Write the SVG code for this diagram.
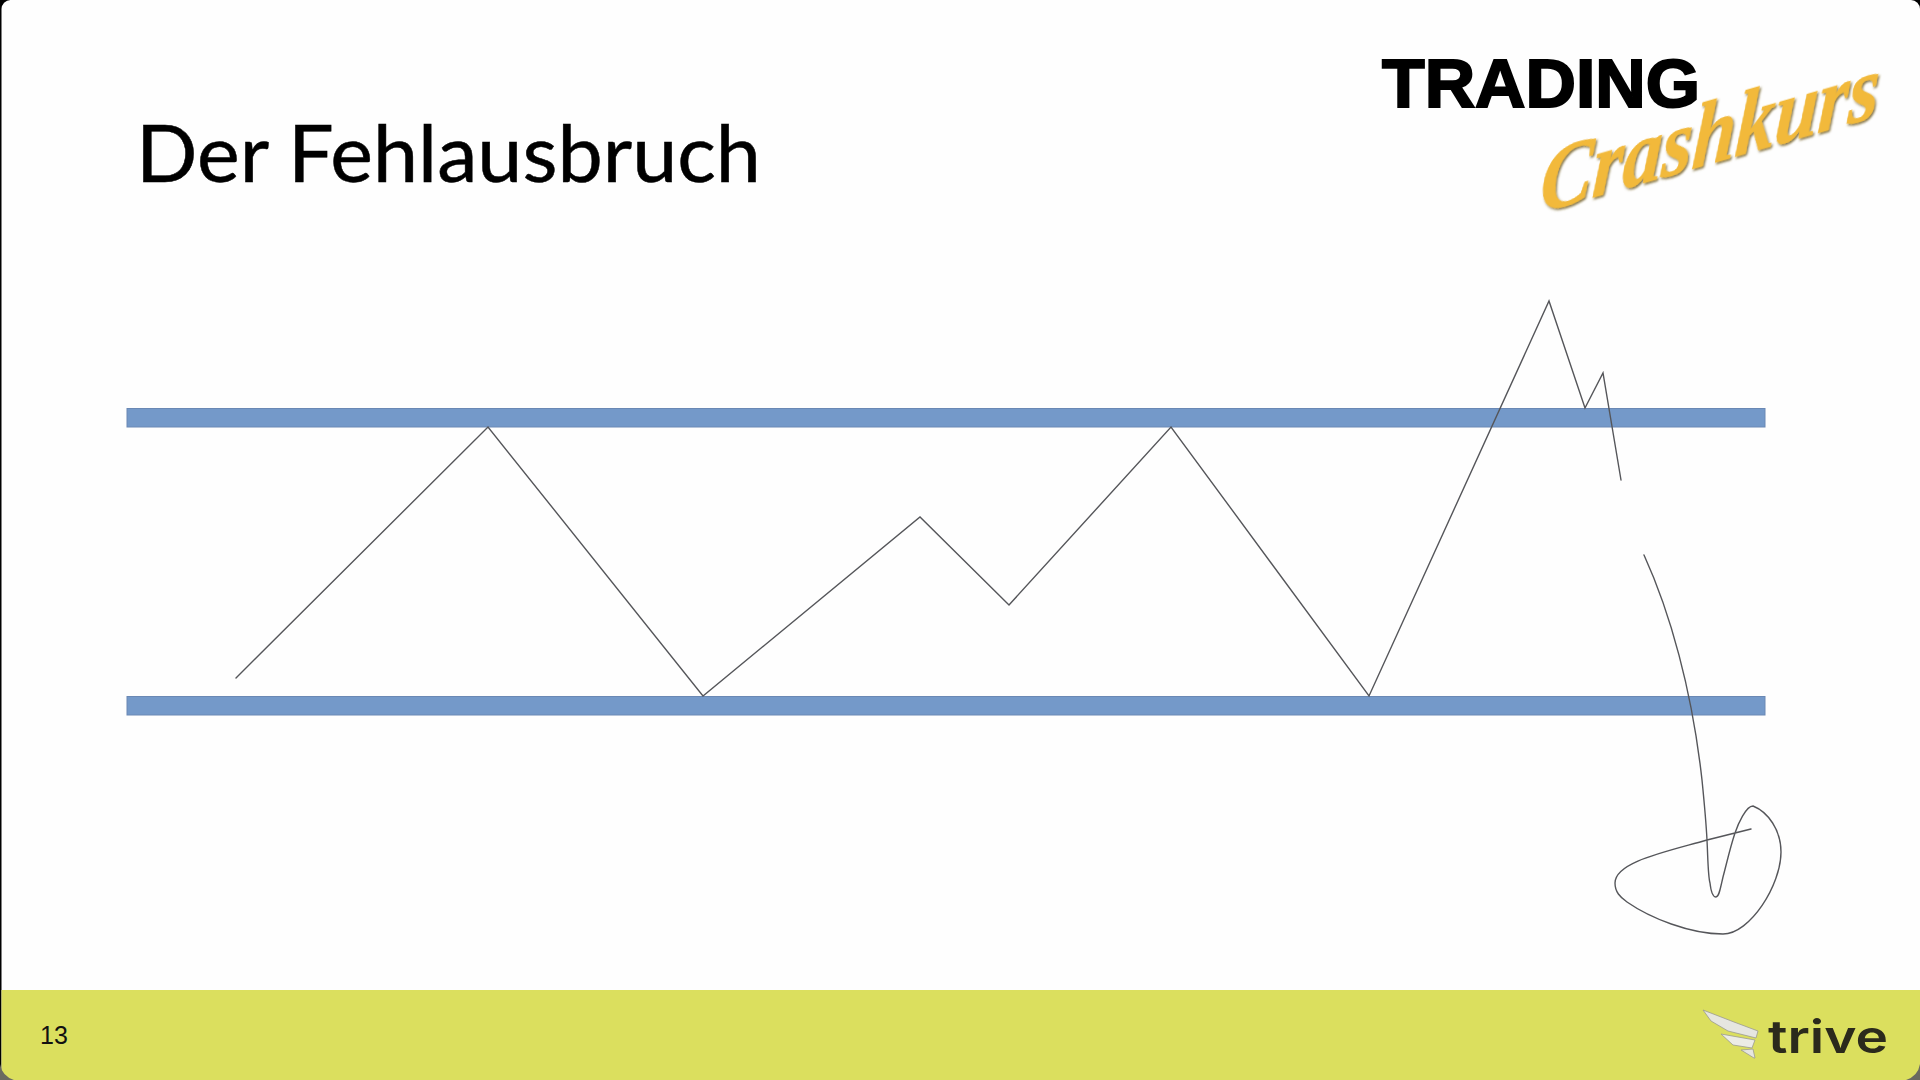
<svg xmlns="http://www.w3.org/2000/svg" width="1920" height="1080" viewBox="0 0 1920 1080">
<defs>
<style>
.bar{fill:#7499c9;stroke:#6a88b4;stroke-width:1}
.ink{fill:none;stroke:#55565a;stroke-width:1.4;stroke-linejoin:miter;stroke-linecap:round}
</style>
<filter id="sh" x="-10%" y="-10%" width="120%" height="120%"><feDropShadow dx="1.5" dy="2" stdDeviation="0.8" flood-color="#6e5a20" flood-opacity="0.8"/></filter>
</defs>
<rect width="1920" height="1080" fill="#000"/>
<rect x="1.5" width="1918.5" height="1080" rx="9" fill="#fefefe"/>
<path d="M1.5 990H1920V1068Q1920 1080 1906 1080H14Q1.5 1080 1.5 1068Z" fill="#dbdf5e"/>
<path d="M0 1064Q2 1076 14 1080H0Z" fill="#6a6a60"/>
<path d="M1920 1064Q1918 1076 1906 1080H1920Z" fill="#6a6a60"/>
<text x="136" y="182" font-family="Lato, 'Noto Sans', sans-serif" font-size="80" fill="#000" stroke="#000" stroke-width="0.5" textLength="625" lengthAdjust="spacingAndGlyphs">Der Fehlausbruch</text>
<g id="logo">
<text x="1382" y="107" font-family="'Liberation Sans', Arial, sans-serif" font-weight="700" font-size="68" fill="#000" stroke="#000" stroke-width="2" textLength="318" lengthAdjust="spacingAndGlyphs">TRADING</text>
<text transform="translate(1539 213) rotate(-16) skewX(-20)" font-family="'Liberation Serif', serif" font-style="italic" font-weight="700" font-size="88" fill="#f2b93a" stroke="#f2b93a" stroke-width="0.6" filter="url(#sh)" textLength="352" lengthAdjust="spacingAndGlyphs">Crashkurs</text>
</g>
<g id="bars">
<rect class="bar" x="127" y="408.5" width="1638" height="18.5"/>
<rect class="bar" x="127" y="696.5" width="1638" height="18.5"/>
</g>
<g id="connectors">
<polyline class="ink" points="236,678 488,427 703,696 920,517 1009,605 1171,427 1369,696 1549,301 1585,408 1603,373 1621,480"/>
<path class="ink" d="M1644 555C1670 612 1692 690 1702 780C1704 800 1706 820 1707 840C1708 860 1708 876 1710 883C1711 892 1713 897 1716 897C1719 897 1720 890 1723 877C1727 862 1730 848 1735 833C1738 824 1746 806 1753 806C1768 812 1781 830 1781 852C1781 885 1750 934 1723 934C1690 934 1650 918 1627 902C1620 897 1615 892 1615 883C1615 862 1665 852 1707 840L1751 829"/>
</g>
<text x="40" y="1044" font-family="'Liberation Sans', Arial, sans-serif" font-size="25" fill="#111">13</text>
<g id="trive">
<path d="M1703 1010L1734 1022L1758 1031L1756 1038L1728 1031L1711 1021Z" fill="#e6e6e0" stroke="#9b9b90" stroke-width="0.8"/>
<path d="M1721 1034L1755 1040L1752 1048L1733 1045Z" fill="#ecece6" stroke="#9b9b90" stroke-width="0.8"/>
<path d="M1741 1050L1753 1049L1755 1058L1754 1058Z" fill="#e6e6e0" stroke="#9b9b90" stroke-width="0.8"/>
<text x="1768" y="1053" font-family="Inter, 'Noto Sans', sans-serif" font-weight="600" font-size="45" fill="#2b2a1c" textLength="120" lengthAdjust="spacingAndGlyphs">trive</text>
</g>
</svg>
